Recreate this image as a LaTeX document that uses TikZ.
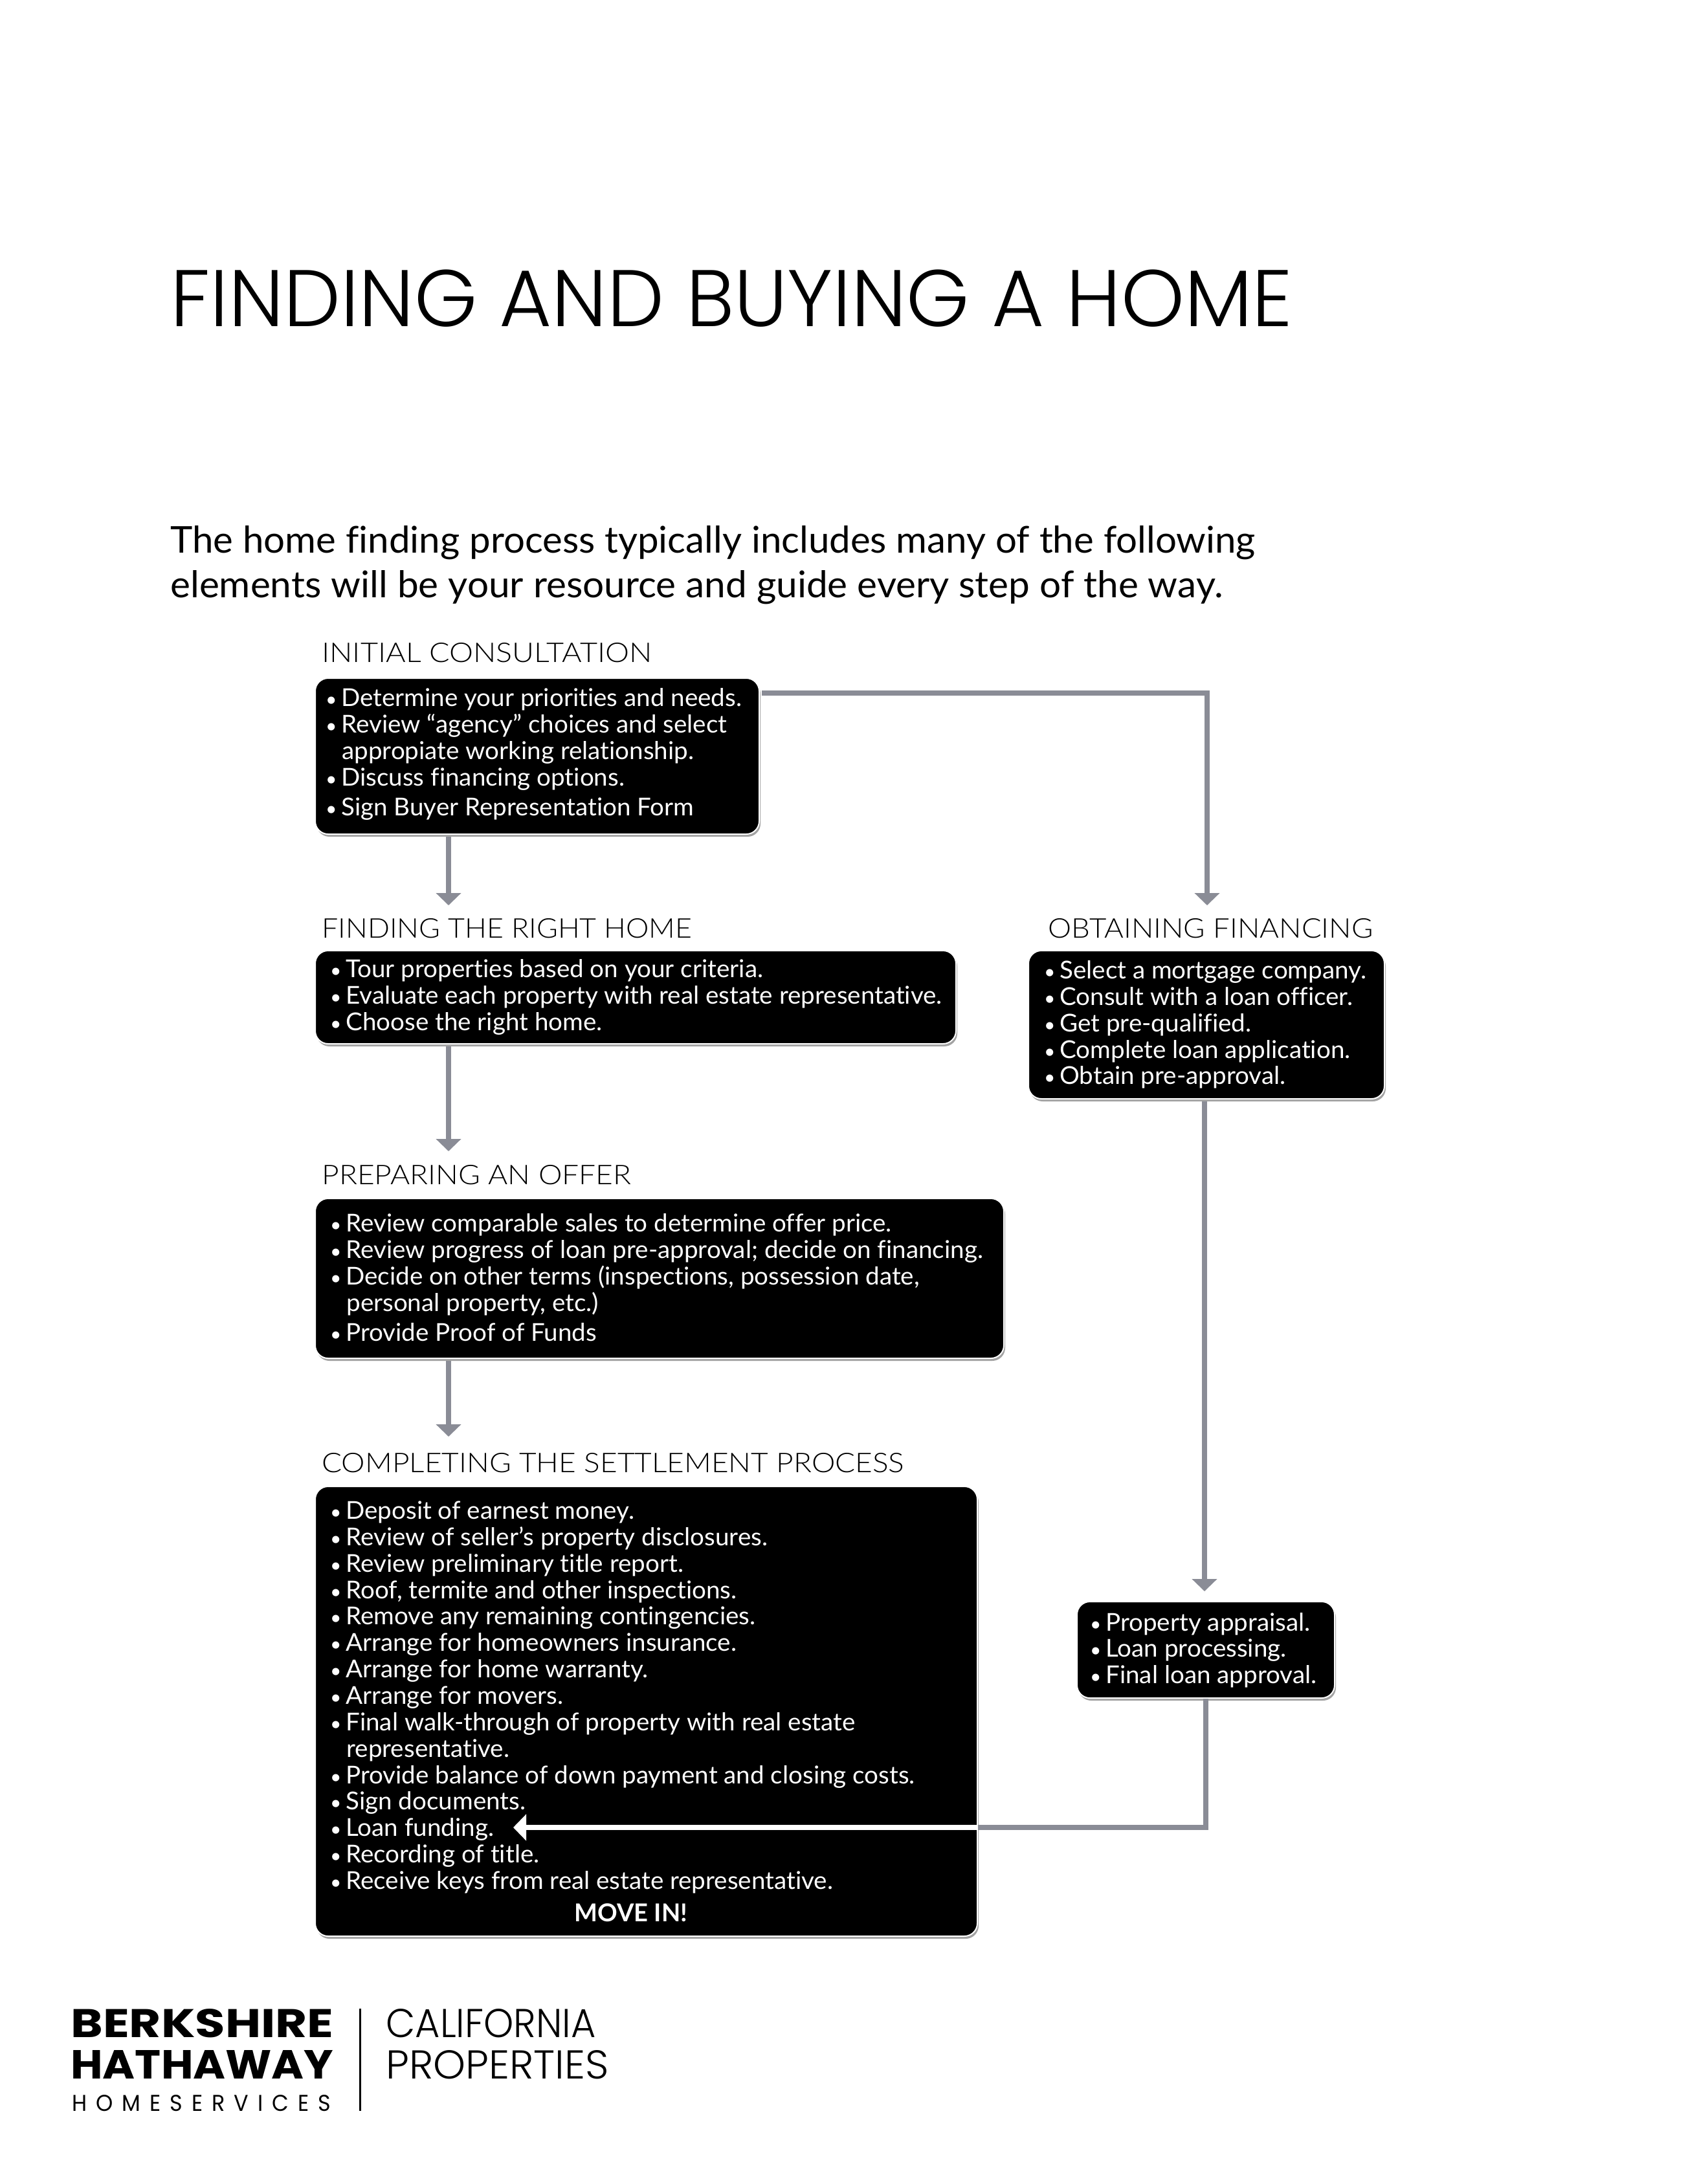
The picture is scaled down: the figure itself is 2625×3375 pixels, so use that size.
\documentclass[tikz,border=0pt]{standalone}
\usepackage{fontspec}
\usepackage{graphicx}
\setmainfont[Ligatures=NoCommon]{Lato}
\newfontfamily\lightfont[Ligatures=NoCommon]{Lato Light}
\newfontfamily\ttlfont{Poppins Light}
\newfontfamily\logofont{Poppins}
\newfontfamily\logosp[LetterSpace=42]{Poppins}
\usetikzlibrary{arrows.meta,shadows}
\newcommand\bodyx{1.015}
\newcommand\bst{\rule[-6pt]{0pt}{20.3pt}}
\newcommand\itm[1]{\bst\makebox[11pt][l]{\hspace*{-1.2pt}\smash{\fontsize{15}{15}\selectfont •}}\smash{\scalebox{\bodyx}[1]{#1}}}
\newcommand\cnt[1]{\bst\hspace*{11.5pt}\smash{\scalebox{\bodyx}[1]{#1}}}
\newcommand\fitx[2]{\resizebox{#1pt}{\height}{#2}}
\definecolor{conn}{HTML}{8A8C96}
\tikzset{
  bx/.style={anchor=north west,fill=black,draw=white,line width=1pt,rounded corners=10pt,inner sep=0pt,
    drop shadow={shadow xshift=1pt,shadow yshift=-2pt,opacity=.6,fill=black!60}},
  bodytext/.style={anchor=north west,inner sep=0pt,text=white,align=left,font=\fontsize{19}{20.43}\selectfont},
  lbl/.style={anchor=base west,inner sep=0pt,font=\lightfont\fontsize{21}{21}\selectfont},
  intro/.style={anchor=base west,inner sep=0pt,font=\fontsize{28.5}{29}\selectfont},
  ttl/.style={anchor=base west,inner sep=0pt,font=\ttlfont\fontsize{62}{62}\selectfont},
  lg/.style={anchor=base west,inner sep=0pt},
  cn/.style={draw=conn,line width=4pt,shorten <=1.5pt},
  cna/.style={cn,-{Triangle[length=9.5pt,width=19pt,fill=conn]}},
  wa/.style={draw=white,line width=4pt,-{Triangle[length=10pt,width=20pt,fill=white]}},
}
\begin{document}
\begin{tikzpicture}[x=0.5pt,y=-0.5pt]
\useasboundingbox (0,0) rectangle (2625,3375);
\node[ttl] (title) at (263,504) {\fitx{867}{FINDING AND BUYING A HOME}};
\node[intro] (introa) at (263,854) {\fitx{838}{The home finding process typically includes many of the following}};
\node[intro] (introb) at (263,923) {\fitx{813}{elements will be your resource and guide every step of the way.}};

\node[lbl] (l1) at (497,1023) {\fitx{255}{INITIAL CONSULTATION}};
\node[lbl] (l2) at (497,1449) {\fitx{286}{FINDING THE RIGHT HOME}};
\node[lbl] (l3) at (1619,1449) {\fitx{251}{OBTAINING FINANCING}};
\node[lbl] (l4) at (497,1830) {\fitx{239}{PREPARING AN OFFER}};
\node[lbl] (l5) at (497,2275) {\fitx{450}{COMPLETING THE SETTLEMENT PROCESS}};

\node[bx,minimum width=343pt,minimum height=120.5pt] (b1) at (486,1047) {};
\node[bx,minimum width=495pt,minimum height=72pt] (b2) at (486,1468) {};
\node[bx,minimum width=275pt,minimum height=114.5pt] (b5) at (1588,1468) {};
\node[bx,minimum width=532pt,minimum height=123.5pt] (b3) at (486,1851) {};
\node[bx,minimum width=511.5pt,minimum height=347.5pt] (b4) at (486,2296) {};
\node[bx,minimum width=199pt,minimum height=74.5pt] (b6) at (1663,2474) {};

\node[bodytext] (t1) at (505,1062.4) {\itm{Determine your priorities and needs.}\\\itm{Review “agency” choices and select}\\\cnt{appropiate working relationship.}\\\itm{Discuss financing options.}\\[2.6pt]\itm{Sign Buyer Representation Form}};
\node[bodytext] (t2) at (512,1481.4) {\itm{Tour properties based on your criteria.}\\\itm{Evaluate each property with real estate representative.}\\\itm{Choose the right home.}};
\node[bodytext] (t5) at (1615,1483.4) {\itm{Select a mortgage company.}\\\itm{Consult with a loan officer.}\\\itm{Get pre-qualified.}\\\itm{Complete loan application.}\\\itm{Obtain pre-approval.}};
\node[bodytext] (t3) at (512,1874.4) {\itm{Review comparable sales to determine offer price.}\\\itm{Review progress of loan pre-approval; decide on financing.}\\\itm{Decide on other terms (inspections, possession date,}\\\cnt{personal property, etc.)}\\[2.6pt]\itm{Provide Proof of Funds}};
\node[bodytext] (t4) at (512,2318.4) {\itm{Deposit of earnest money.}\\\itm{Review of seller’s property disclosures.}\\\itm{Review preliminary title report.}\\\itm{Roof, termite and other inspections.}\\\itm{Remove any remaining contingencies.}\\\itm{Arrange for homeowners insurance.}\\\itm{Arrange for home warranty.}\\\itm{Arrange for movers.}\\\itm{Final walk-through of property with real estate}\\\cnt{representative.}\\\itm{Provide balance of down payment and closing costs.}\\\itm{Sign documents.}\\\itm{Loan funding.}\\\itm{Recording of title.}\\\itm{Receive keys from real estate representative.}};
\node[anchor=base,inner sep=0pt,text=white,font=\fontsize{19}{20}\selectfont\bfseries] (movein) at (975,2969) {MOVE IN!};
\node[bodytext] (t6) at (1686,2491) {\itm{Property appraisal.}\\\itm{Loan processing.}\\\itm{Final loan approval.}};

\coordinate (a1) at (693,1399);
\coordinate (a2) at (1865,1399);
\coordinate (a3) at (693,1779);
\coordinate (a4) at (693,2220);
\coordinate (a5) at (1861,2459);
\coordinate (e1) at (1863,2824);

\draw[cna] (b1.south -| a1) -- (a1);
\draw[cna] (b1.east |- 0,1071) -- (a2 |- 0,1071) -- (a2);
\draw[cna] (b2.south -| a3) -- (a3);
\draw[cna] (b3.south -| a4) -- (a4);
\draw[cna] (b5.south -| a5) -- (a5);
\draw[cn,shorten <=0pt] (b6.south -| e1) -- (e1) -- (b4.east |- e1);
\draw[wa] (b4.east |- e1) -- (793,2824);

\node[lg] (lbrk) at (109,3148) {\resizebox{203pt}{22pt}{\logofont\bfseries BERKSHIRE}};
\node[lg] (lhat) at (109,3212) {\resizebox{203pt}{22pt}{\logofont\bfseries HATHAWAY}};
\node[lg] (lhom) at (111,3262) {\resizebox{200pt}{12.5pt}{\logosp HOMESERVICES}};
\node[lg] (lcal) at (596,3148) {\resizebox{162pt}{22pt}{\ttlfont CALIFORNIA}};
\node[lg] (lpro) at (596,3212) {\resizebox{172pt}{22pt}{\ttlfont PROPERTIES}};
\coordinate (bara) at (556,3104);
\coordinate (barb) at (556,3262);
\draw[black,line width=1.5pt] (bara) -- (barb);
\end{tikzpicture}
\end{document}
